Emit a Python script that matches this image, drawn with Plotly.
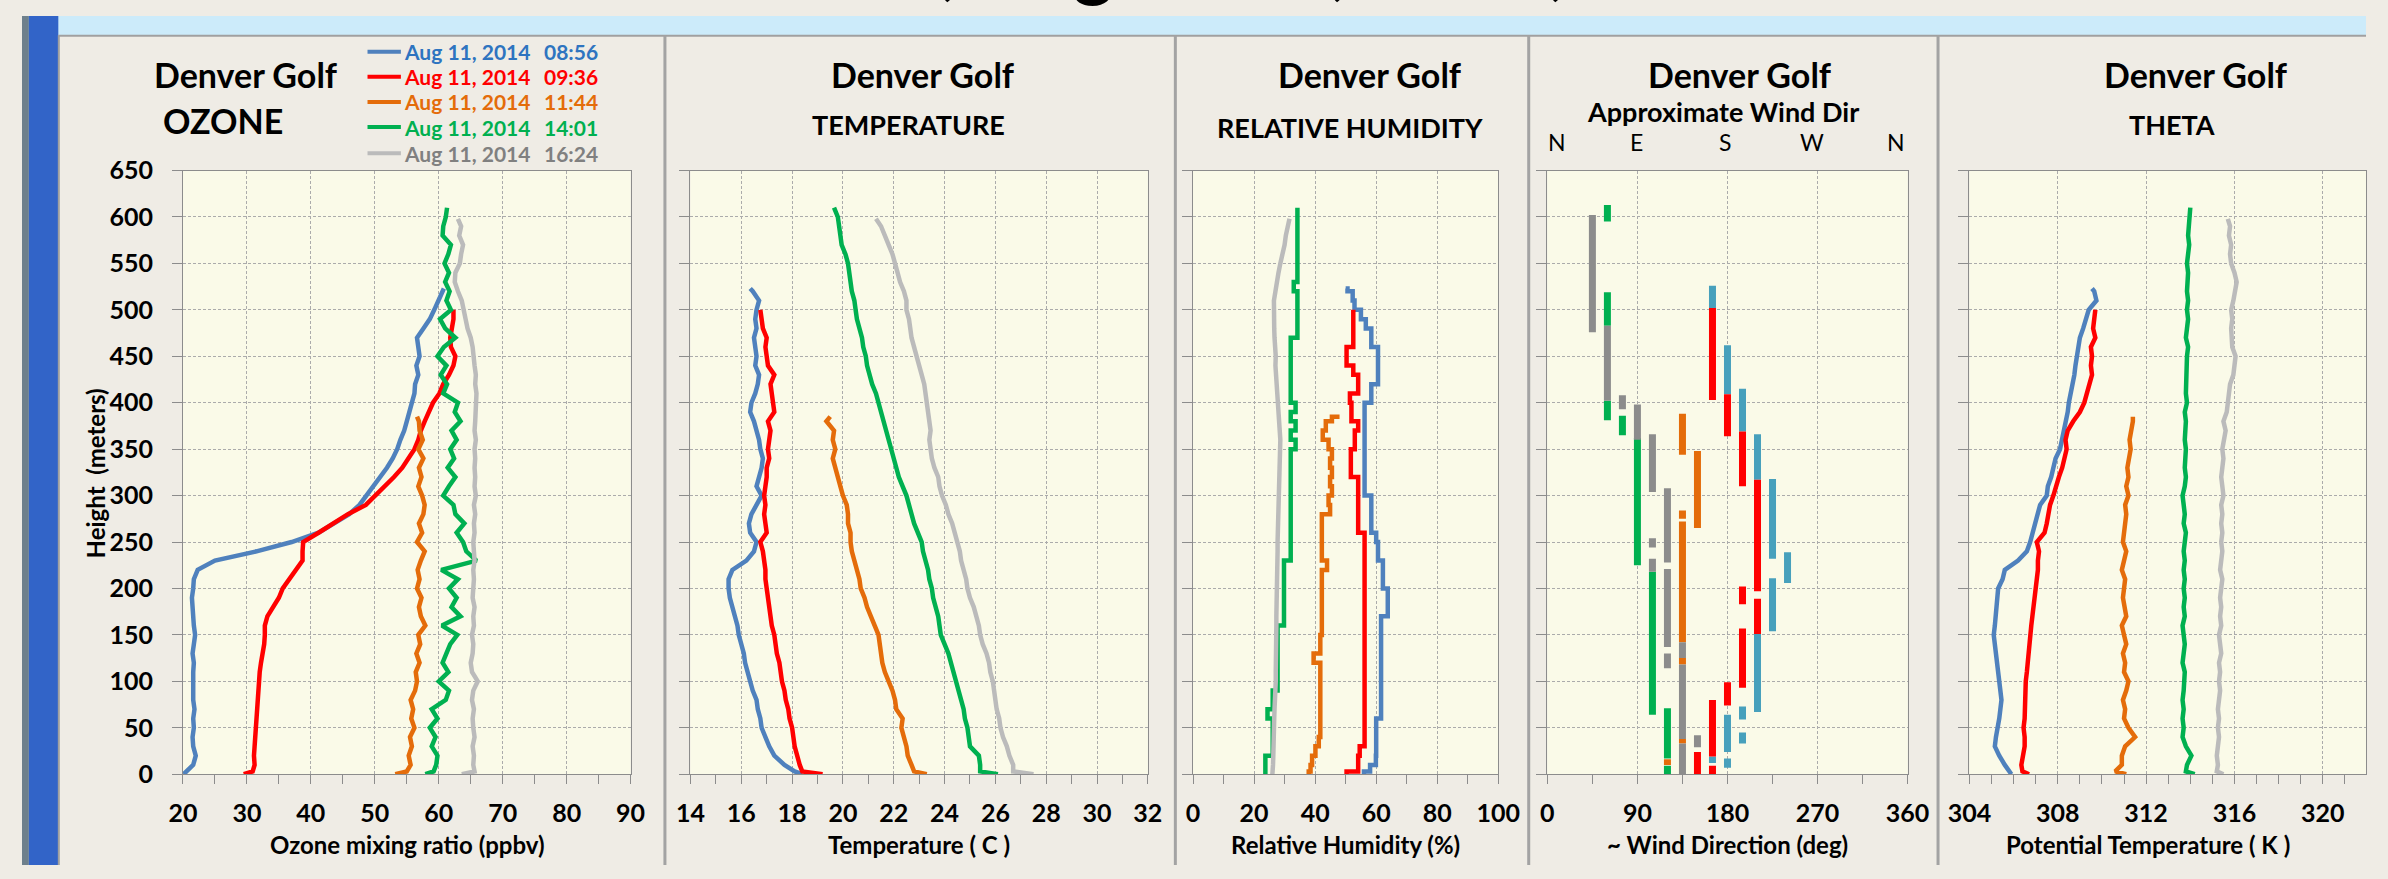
import plotly.graph_objects as go

W, H = 2388, 879

# ---------------- soundings ----------------
DATE = "Aug 11, 2014"
TIMES = ["08:56", "09:36", "11:44", "14:01", "16:24"]
LINE_COLORS = ["#4F81BD", "#FF0000", "#E46C0A", "#00B050", "#BBBBBB"]
TEXT_COLORS = ["#2E74C0", "#FF0000", "#E46C0A", "#00B050", "#808080"]
WIND_COLORS = ["#47A0BC", "#FF0000", "#E46C0A", "#00B050", "#8C8C8C"]
BANNER = ", August 11, 2014,"

# heights (m) of each profile
H_0856 = [0, 3, 10, 20, 30, 40, 50, 60, 70, 80, 90, 100, 110, 120, 130, 140, 150, 160, 170, 180,
          190, 200, 210, 220, 230, 240, 250, 260, 270, 280, 290, 300, 310, 320, 330, 340, 350, 360, 370, 380,
          390, 400, 410, 420, 430, 440, 450, 460, 470, 480, 490, 500, 510, 520, 523]
H_0936 = [0, 3, 10, 20, 30, 40, 50, 60, 70, 80, 90, 100, 110, 120, 130, 140, 150, 160, 170, 180,
          190, 200, 210, 220, 230, 240, 250, 260, 270, 280, 290, 300, 310, 320, 330, 340, 350, 360, 370, 380,
          390, 400, 410, 420, 430, 440, 450, 460, 470, 480, 490, 500]
H_1144 = [0, 3, 10, 20, 30, 40, 50, 60, 70, 80, 90, 100, 110, 120, 130, 140, 150, 160, 170, 180,
          190, 200, 210, 220, 230, 240, 250, 260, 270, 280, 290, 300, 310, 320, 330, 340, 350, 360, 370, 380,
          385]
H_1401 = [0, 3, 10, 20, 30, 40, 50, 60, 70, 80, 90, 100, 110, 120, 130, 140, 150, 160, 170, 180,
          190, 200, 210, 220, 230, 240, 250, 260, 270, 280, 290, 300, 310, 320, 330, 340, 350, 360, 370, 380,
          390, 400, 410, 420, 430, 440, 450, 460, 470, 480, 490, 500, 510, 520, 530, 540, 550, 560, 570, 580,
          590, 600, 610]
H_1624 = [0, 3, 10, 20, 30, 40, 50, 60, 70, 80, 90, 100, 110, 120, 130, 140, 150, 160, 170, 180,
          190, 200, 210, 220, 230, 240, 250, 260, 270, 280, 290, 300, 310, 320, 330, 340, 350, 360, 370, 380,
          390, 400, 410, 420, 430, 440, 450, 460, 470, 480, 490, 500, 510, 520, 530, 540, 550, 560, 570, 580,
          590, 598]

# ozone mixing ratio (ppbv)
O3_0856 = [20.1, 20.6, 21.6, 22.0, 21.6, 21.5, 21.7, 21.6, 21.8, 21.6,
           21.6, 21.5, 21.6, 21.7, 21.5, 21.7, 21.9, 21.7, 21.6, 21.5,
           21.4, 21.6, 21.7, 22.3, 25.0, 31.5, 37.0, 41.2, 43.5, 46.0,
           47.6, 48.7, 49.8, 51.0, 51.9, 52.8, 53.5, 54.0, 54.6, 55.0,
           55.4, 55.8, 56.2, 56.3, 56.8, 56.5, 57.0, 56.8, 56.6, 57.6,
           58.6, 59.3, 60.0, 60.6, 60.8]
O3_0936 = [29.5, 30.9, 31.2, 31.1, 31.2, 31.3, 31.3, 31.4, 31.5, 31.6,
           31.7, 31.8, 32.0, 32.2, 32.5, 32.7, 32.8, 32.8, 33.2, 34.2,
           35.0, 35.6, 36.6, 37.8, 38.7, 38.7, 38.8, 41.2, 43.6, 45.8,
           48.6, 50.1, 51.7, 53.0, 54.3, 55.3, 56.2, 56.8, 57.2, 57.8,
           58.5, 59.1, 60.1, 60.7, 61.6, 62.3, 62.6, 61.9, 61.8, 62.0,
           62.3, 62.3]
O3_1144 = [53.2, 55.0, 55.6, 55.3, 55.8, 55.5, 56.2, 55.7, 56.0, 55.6,
           56.3, 56.6, 56.4, 57.0, 56.5, 57.1, 56.8, 57.9, 57.2, 56.9,
           57.3, 56.6, 57.0, 56.7, 57.2, 57.8, 56.6, 57.4, 56.9, 57.6,
           57.8, 57.4, 56.8, 57.3, 56.9, 57.6, 56.8, 57.5, 57.0, 56.9,
           56.6]
O3_1401 = [57.9, 59.2, 59.6, 59.8, 58.9, 59.5, 58.6, 59.8, 58.9, 61.1,
           61.6, 60.0, 61.5, 60.6, 61.2, 61.8, 62.9, 60.5, 63.4, 62.0,
           62.8, 61.6, 63.0, 60.4, 65.9, 64.3, 63.8, 62.8, 64.0, 62.6,
           62.3, 60.7, 61.6, 62.6, 61.4, 62.4, 61.8, 62.8, 62.0, 63.4,
           62.5, 63.0, 60.7, 61.3, 60.3, 61.2, 59.8, 60.8, 62.6, 61.0,
           60.2, 61.9, 61.2, 61.7, 61.0, 61.6, 60.9, 61.5, 61.9, 60.6,
           60.7, 61.1, 61.3]
O3_1624 = [63.6, 65.6, 65.4, 65.5, 65.3, 65.6, 65.4, 65.3, 65.5, 65.2,
           65.4, 66.1, 65.2, 65.0, 65.3, 65.4, 65.2, 65.5, 65.4, 65.6,
           65.3, 65.4, 65.5, 65.4, 65.6, 65.5, 65.4, 65.6, 65.5, 65.7,
           65.5, 65.8, 65.6, 65.7, 65.6, 65.7, 65.6, 65.8, 65.6, 65.7,
           65.8, 65.8, 65.9, 65.7, 65.8, 65.6, 65.5, 65.3, 65.0, 64.5,
           64.2, 63.9, 63.6, 63.0, 62.5, 62.6, 63.3, 63.5, 63.8, 63.2,
           63.5, 63.0]

# temperature (C)
T_0856 = [18.4, 18.1, 17.7, 17.3, 17.1, 16.95, 16.8, 16.75, 16.65, 16.6,
          16.45, 16.35, 16.25, 16.15, 16.1, 16.0, 15.9, 15.85, 15.75, 15.65,
          15.55, 15.5, 15.5, 15.65, 16.2, 16.5, 16.6, 16.35, 16.3, 16.4,
          16.6, 16.8, 16.6, 16.7, 16.8, 16.85, 16.75, 16.7, 16.6, 16.5,
          16.35, 16.4, 16.55, 16.65, 16.7, 16.55, 16.6, 16.55, 16.5, 16.6,
          16.55, 16.6, 16.7, 16.45, 16.35]
T_0936 = [19.2, 18.4, 18.3, 18.2, 18.1, 18.05, 18.0, 17.9, 17.85, 17.75,
          17.7, 17.6, 17.55, 17.5, 17.4, 17.35, 17.3, 17.2, 17.15, 17.1,
          17.05, 17.0, 16.95, 16.95, 16.9, 16.85, 16.75, 17.0, 16.95, 16.9,
          16.95, 16.9, 16.95, 17.0, 17.0, 17.1, 17.05, 17.1, 17.15, 17.05,
          17.3, 17.25, 17.2, 17.15, 17.3, 17.05, 17.0, 16.95, 17.0, 16.85,
          16.8, 16.75]
T_1144 = [23.3, 22.8, 22.7, 22.55, 22.5, 22.4, 22.3, 22.35, 22.1, 22.05,
          21.95, 21.8, 21.65, 21.55, 21.5, 21.45, 21.4, 21.25, 21.1, 20.95,
          20.85, 20.7, 20.65, 20.55, 20.45, 20.35, 20.3, 20.3, 20.2, 20.2,
          20.15, 20.0, 19.9, 19.8, 19.7, 19.6, 19.7, 19.6, 19.65, 19.35,
          19.5]
T_1401 = [26.1, 25.4, 25.4, 25.35, 25.0, 24.95, 24.9, 24.8, 24.75, 24.65,
          24.55, 24.45, 24.35, 24.25, 24.15, 24.0, 23.85, 23.8, 23.75, 23.65,
          23.55, 23.5, 23.4, 23.35, 23.25, 23.15, 23.1, 22.95, 22.8, 22.7,
          22.6, 22.5, 22.35, 22.2, 22.1, 22.0, 21.9, 21.8, 21.7, 21.6,
          21.5, 21.4, 21.3, 21.15, 21.05, 20.95, 20.9, 20.8, 20.75, 20.65,
          20.55, 20.5, 20.45, 20.35, 20.3, 20.25, 20.2, 20.1, 19.95, 19.9,
          19.85, 19.8, 19.65]
T_1624 = [27.5, 26.7, 26.7, 26.55, 26.45, 26.3, 26.2, 26.15, 26.05, 26.0,
          25.95, 25.9, 25.8, 25.75, 25.65, 25.5, 25.4, 25.35, 25.25, 25.15,
          25.0, 24.9, 24.85, 24.75, 24.65, 24.6, 24.5, 24.4, 24.3, 24.15,
          24.05, 23.9, 23.8, 23.75, 23.6, 23.5, 23.45, 23.4, 23.45, 23.4,
          23.35, 23.3, 23.25, 23.2, 23.1, 23.0, 22.9, 22.8, 22.7, 22.65,
          22.6, 22.5, 22.5, 22.4, 22.25, 22.15, 22.05, 21.95, 21.8, 21.65,
          21.5, 21.3]

# relative humidity (%)
RH_0856 = [56.0, 58.0, 59.9, 60.0, 60.0, 60.0, 60.0, 61.6, 61.6, 61.6,
           61.6, 61.6, 61.6, 61.6, 61.6, 61.6, 61.6, 61.6, 63.8, 63.8,
           63.8, 62.2, 62.2, 62.2, 60.6, 60.6, 60.0, 58.4, 58.4, 58.4,
           58.4, 56.2, 56.2, 56.2, 56.2, 56.2, 56.2, 56.2, 56.2, 56.2,
           56.2, 58.4, 58.4, 60.6, 60.6, 60.6, 60.6, 58.4, 58.4, 56.6,
           55.0, 52.9, 52.3, 50.6, 50.0]
RH_0936 = [50.3, 54.1, 54.1, 54.6, 56.2, 56.2, 56.2, 56.2, 56.2, 56.2,
           56.2, 56.2, 56.2, 56.2, 56.2, 56.2, 56.2, 56.2, 56.2, 56.2,
           56.2, 56.2, 56.2, 56.2, 56.2, 56.2, 56.2, 54.1, 54.1, 54.1,
           54.1, 54.1, 54.1, 51.7, 51.7, 51.7, 53.0, 53.0, 54.1, 51.9,
           51.9, 51.4, 54.1, 54.1, 52.5, 50.3, 50.3, 52.5, 52.5, 52.5,
           52.5, 52.5]
RH_1144 = [37.9, 38.5, 39.0, 40.1, 41.2, 41.7, 41.7, 41.7, 41.7, 41.7,
           41.7, 41.7, 41.7, 39.5, 41.7, 41.7, 42.2, 42.2, 42.2, 42.2,
           42.2, 42.2, 42.2, 43.9, 42.2, 42.2, 42.2, 42.2, 42.2, 44.9,
           44.4, 45.5, 44.9, 45.5, 44.9, 45.5, 44.4, 42.5, 43.5, 45.5,
           48.0]
RH_1401 = [23.7, 23.7, 23.7, 26.1, 26.1, 26.1, 26.1, 24.4, 26.1, 26.1,
           27.7, 27.7, 27.7, 27.7, 27.7, 27.7, 27.7, 29.8, 29.8, 29.8,
           29.8, 29.8, 29.8, 29.8, 32.0, 32.0, 32.0, 32.0, 32.0, 32.0,
           32.0, 32.0, 32.0, 32.0, 32.0, 32.0, 33.6, 32.0, 33.6, 32.0,
           33.6, 32.0, 32.0, 32.0, 32.0, 32.0, 32.0, 32.0, 34.2, 34.2,
           34.2, 34.2, 34.2, 33.0, 34.2, 34.2, 34.2, 34.2, 34.2, 34.2,
           34.2, 34.2, 34.2]
RH_1624 = [26.0, 26.1, 26.2, 26.3, 26.3, 26.5, 26.6, 26.6, 26.7, 26.9,
           27.0, 27.1, 27.1, 27.2, 27.2, 27.1, 27.2, 27.3, 27.3, 27.4,
           27.3, 27.4, 27.5, 27.6, 27.6, 27.7, 27.7, 27.8, 27.8, 27.8,
           27.9, 27.9, 28.0, 28.1, 28.3, 28.5, 28.7, 28.6, 28.4, 28.2,
           28.0, 27.8, 27.6, 27.3, 27.2, 27.0, 27.1, 26.8, 26.7, 26.6,
           26.6, 26.7, 26.5, 27.0, 27.4, 28.0, 28.6, 29.4, 30.0, 30.4,
           31.2, 31.6]

# potential temperature (K)
TH_0856 = [305.9, 305.8, 305.6, 305.35, 305.15, 305.2, 305.3, 305.35, 305.4, 305.45,
           305.4, 305.35, 305.3, 305.2, 305.15, 305.1, 305.1, 305.15, 305.2, 305.2,
           305.25, 305.3, 305.5, 305.6, 306.2, 306.6, 306.75, 306.85, 306.95, 307.05,
           307.2, 307.5, 307.55, 307.7, 307.8, 307.9, 308.1, 308.2, 308.3, 308.35,
           308.45, 308.5, 308.6, 308.7, 308.75, 308.8, 308.85, 308.95, 309.0, 309.15,
           309.3, 309.4, 309.75, 309.65, 309.55]
TH_0936 = [306.7, 306.4, 306.35, 306.45, 306.5, 306.5, 306.45, 306.5, 306.5, 306.55,
           306.5, 306.55, 306.6, 306.65, 306.7, 306.7, 306.75, 306.8, 306.85, 306.9,
           306.95, 307.0, 307.05, 307.1, 307.1, 307.15, 307.05, 307.4, 307.5, 307.55,
           307.65, 307.8, 307.9, 308.05, 308.2, 308.3, 308.4, 308.35, 308.45, 308.7,
           309.0, 309.2, 309.3, 309.45, 309.55, 309.5, 309.55, 309.5, 309.7, 309.6,
           309.65, 309.7]
TH_1144 = [311.1, 310.6, 310.9, 310.9, 311.05, 311.5, 311.2, 311.0, 311.05, 310.95,
           311.1, 311.2, 311.0, 311.05, 310.95, 311.1, 311.0, 310.9, 311.1, 311.0,
           310.95, 311.0, 311.05, 310.9, 311.0, 311.1, 310.95, 311.0, 311.05, 311.1,
           311.05, 311.2, 311.1, 311.2, 311.15, 311.25, 311.3, 311.25, 311.35, 311.4,
           311.4]
TH_1401 = [314.2, 313.8, 313.85, 314.05, 313.8, 313.65, 313.7, 313.65, 313.7, 313.65,
           313.7, 313.7, 313.75, 313.65, 313.7, 313.75, 313.7, 313.65, 313.75, 313.7,
           313.75, 313.7, 313.75, 313.7, 313.75, 313.7, 313.75, 313.8, 313.7, 313.75,
           313.7, 313.65, 313.75, 313.8, 313.75, 313.8, 313.8, 313.75, 313.8, 313.8,
           313.75, 313.85, 313.8, 313.8, 313.85, 313.8, 313.85, 313.9, 313.8, 313.85,
           313.9, 313.85, 313.9, 313.85, 313.9, 313.9, 313.85, 313.9, 313.95, 313.9,
           313.95, 314.0, 314.0]
TH_1624 = [315.5, 315.2, 315.25, 315.2, 315.25, 315.3, 315.25, 315.3, 315.25, 315.3,
           315.35, 315.3, 315.35, 315.3, 315.4, 315.35, 315.3, 315.4, 315.35, 315.4,
           315.35, 315.4, 315.45, 315.35, 315.4, 315.45, 315.4, 315.45, 315.4, 315.45,
           315.4, 315.5, 315.45, 315.4, 315.45, 315.5, 315.45, 315.55, 315.6, 315.5,
           315.65, 315.7, 315.75, 315.8, 315.95, 316.0, 316.05, 315.9, 315.85, 315.85,
           315.9, 315.85, 315.95, 316.05, 316.1, 316.0, 315.85, 315.8, 315.85, 315.75,
           315.8, 315.7]

# approximate wind direction: layers (direction deg, bottom m, top m)
WD_0856_DIR = [165, 180, 195, 210, 225, 240, 225, 210, 195, 195, 180, 180, 165]
WD_0856_BOT = [502, 409, 369, 317, 232, 206, 154, 67, 59, 33, 24, 7, 12]
WD_0856_TOP = [526, 462, 415, 366, 318, 239, 211, 151, 73, 45, 64, 17, 19]
WD_0936_DIR = [165, 180, 195, 210, 195, 210, 195, 180, 165, 165, 150]
WD_0936_BOT = [403, 364, 310, 197, 183, 151, 93, 74, 19, 0, 0]
WD_0936_TOP = [502, 409, 369, 317, 202, 189, 157, 99, 80, 9, 24]
WD_1144_DIR = [135, 150, 135, 135, 135, 135, 120]
WD_1144_BOT = [344, 265, 275, 142, 118, 33, 10]
WD_1144_TOP = [388, 348, 284, 272, 125, 38, 16]
WD_1401_DIR = [60, 60, 60, 75, 90, 105, 120, 120]
WD_1401_BOT = [595, 483, 381, 365, 225, 64, 17, 0]
WD_1401_TOP = [613, 519, 402, 386, 362, 218, 71, 9]
WD_1624_DIR = [45, 60, 75, 90, 105, 105, 105, 120, 120, 120, 135, 135, 135, 150]
WD_1624_BOT = [476, 402, 393, 360, 304, 244, 218, 228, 137, 114, 125, 38, 0, 29]
WD_1624_TOP = [602, 483, 408, 398, 366, 254, 232, 308, 221, 130, 142, 118, 33, 42]

HEIGHTS = [H_0856, H_0936, H_1144, H_1401, H_1624]
OZONE = [O3_0856, O3_0936, O3_1144, O3_1401, O3_1624]
TEMP = [T_0856, T_0936, T_1144, T_1401, T_1624]
RHUM = [RH_0856, RH_0936, RH_1144, RH_1401, RH_1624]
THETA = [TH_0856, TH_0936, TH_1144, TH_1401, TH_1624]
WIND = [(WD_0856_DIR, WD_0856_BOT, WD_0856_TOP), (WD_0936_DIR, WD_0936_BOT, WD_0936_TOP),
        (WD_1144_DIR, WD_1144_BOT, WD_1144_TOP), (WD_1401_DIR, WD_1401_BOT, WD_1401_TOP),
        (WD_1624_DIR, WD_1624_BOT, WD_1624_TOP)]

# ---------------- layout geometry (pixels) ----------------
PLOT_TOP, PLOT_BOT = 160, 785
TH_L, TH_320 = 1984, 2344
PANELS = [
    dict(l=164, r=620, rng=[20, 90], dt=10, mdt=5, title="Ozone mixing ratio (ppbv)", sub="OZONE"),
    dict(l=681, r=1147, rng=[14, 32], dt=2, mdt=1, title="Temperature ( C )", sub="TEMPERATURE"),
    dict(l=1193, r=1504, rng=[0, 100], dt=20, mdt=10, title="Relative Humidity (%)", sub="RELATIVE HUMIDITY"),
    dict(l=1554, r=1921, rng=[0, 360], dt=90, mdt=45, title="~ Wind Direction (deg)", sub="Approximate Wind Dir"),
    dict(l=TH_L, r=2388, rng=[304, 304 + (2388 - TH_L) / ((TH_320 - TH_L) / 16)], dt=4, mdt=1,
         title="Potential Temperature ( K )", sub="THETA"),
]

FONT = "Lato, 'Open Sans', sans-serif"
BG = "#EFECE5"
PLOT_BG = "#FAFAE8"
AXIS_C = "#8C8C8C"
GRID_C = "#ABABAB"


def px(x):
    return x / W


def py(y):
    return 1 - y / H


fig = go.Figure()

# profile lines
for p, data in zip([1, 2, 3, 5], [OZONE, TEMP, RHUM, THETA]):
    for k in range(5):
        shape = "vh" if (p == 3 and k < 4) else "linear"
        fig.add_trace(go.Scatter(
            x=data[k], y=HEIGHTS[k], mode="lines",
            line=dict(color=LINE_COLORS[k], width=4.5, shape=shape),
            xaxis=f"x{p}", yaxis=f"y{p}", showlegend=False, hoverinfo="skip"))

# wind direction layers as thick vertical bars
for k, (dirs, bots, tops) in enumerate(WIND):
    xs, ys = [], []
    for d, b, t in zip(dirs, bots, tops):
        xs += [d, d, None]
        ys += [b, t, None]
    fig.add_trace(go.Scatter(
        x=xs, y=ys, mode="lines", line=dict(color=WIND_COLORS[k], width=7),
        xaxis="x4", yaxis="y4", showlegend=False, hoverinfo="skip"))

tickfont = dict(family=FONT, size=25, color="black", weight="bold")
for i, P in enumerate(PANELS, start=1):
    sfx = "" if i == 1 else str(i)
    fig.layout[f"xaxis{sfx}"] = dict(
        domain=[px(P["l"]), px(P["r"])], anchor=f"y{i}", range=P["rng"],
        tick0=P["rng"][0], dtick=P["dt"], ticks="outside", ticklen=9, tickcolor=AXIS_C,
        minor=dict(dtick=P["mdt"], ticks="outside", ticklen=9, tickcolor=AXIS_C, showgrid=False),
        showgrid=True, gridcolor=GRID_C, griddash="3px,2px", gridwidth=1,
        showline=True, linecolor=AXIS_C, linewidth=1, mirror=True, zeroline=False,
        tickfont=tickfont, ticklabelstandoff=8, fixedrange=True)
    fig.layout[f"yaxis{sfx}"] = dict(
        domain=[py(PLOT_BOT), py(PLOT_TOP)], anchor=f"x{i}", range=[0, 650],
        dtick=50, ticks="outside", ticklen=10, tickcolor=AXIS_C,
        showticklabels=(i == 1), showgrid=True, gridcolor=GRID_C, griddash="3px,2px", gridwidth=1,
        showline=True, linecolor=AXIS_C, linewidth=1, mirror=True, zeroline=False,
        tickfont=tickfont, ticklabelstandoff=14, fixedrange=True)

annotations = []


def ann(text, x, y, size, color="black", bold=True, xanchor="center", angle=0, yanchor="middle"):
    annotations.append(dict(
        text=f"<b>{text}</b>" if bold else text, x=px(x), y=py(y), xref="paper", yref="paper",
        xanchor=xanchor, yanchor=yanchor, showarrow=False, textangle=angle,
        font=dict(family=FONT, size=size, color=color)))


# banner text running off the top edge (only its lowest strokes fall inside the page)
ann(BANNER, 934, -6, 78, xanchor="left", yanchor="bottom")

# panel headings
for cx in [228, 918, 1373, 1750, 2215]:
    ann("Denver Golf", cx, 61, 34)
ann(PANELS[0]["sub"], 205, 108, 34)
ann(PANELS[1]["sub"], 903, 112, 27)
ann(PANELS[2]["sub"], 1353, 115, 27)
ann(PANELS[3]["sub"], 1733, 99, 27)
ann(PANELS[4]["sub"], 2190, 112, 27)
for lbl, cx in zip(["N", "E", "S", "W", "N"], [1564, 1645, 1735, 1824, 1909]):
    ann(lbl, cx, 130, 23, bold=False)

# axis titles
for P in PANELS[:4]:
    ann(P["title"], (P["l"] + P["r"]) / 2, 858, 24)
ann(PANELS[4]["title"], 2166, 858, 24)
ann("Height \u00a0(meters)", 75, 474, 24, angle=-90)

# series key
shapes = []
ROWS = [37, 63, 89, 115, 142]
for k in range(5):
    ann(DATE, 387, ROWS[k], 21, TEXT_COLORS[k], xanchor="left")
    ann(TIMES[k], 530, ROWS[k], 21, TEXT_COLORS[k], xanchor="left")
    shapes.append(dict(type="line", xref="paper", yref="paper", x0=px(352), x1=px(386),
                       y0=py(ROWS[k]), y1=py(ROWS[k]), line=dict(color=LINE_COLORS[k], width=4)))

# frame: title band, left strip, panel borders
shapes += [
    dict(type="rect", xref="paper", yref="paper", x0=0, x1=1, y0=py(20), y1=1,
         fillcolor="#CCEBFA", line=dict(width=0), layer="below"),
    dict(type="rect", xref="paper", yref="paper", x0=0, x1=px(7), y0=0, y1=1,
         fillcolor="#6E808C", line=dict(width=0), layer="below"),
    dict(type="rect", xref="paper", yref="paper", x0=px(7), x1=px(37), y0=0, y1=1,
         fillcolor="#3264C8", line=dict(width=0), layer="below"),
    dict(type="line", xref="paper", yref="paper", x0=px(37), x1=1, y0=py(20.5), y1=py(20.5),
         line=dict(color="#A0A0A0", width=2)),
    dict(type="line", xref="paper", yref="paper", x0=px(37.5), x1=px(37.5), y0=0, y1=py(20),
         line=dict(color="#A0A0A0", width=2)),
]
for sx in [655, 1175, 1535, 1952]:
    shapes.append(dict(type="line", xref="paper", yref="paper", x0=px(sx), x1=px(sx), y0=0, y1=py(20),
                       line=dict(color="#A3A3A3", width=3)))

fig.update_layout(
    width=W, height=H, margin=dict(l=0, r=0, t=0, b=0),
    paper_bgcolor=BG, plot_bgcolor=PLOT_BG, showlegend=False,
    annotations=annotations, shapes=shapes, hovermode=False,
    font=dict(family=FONT, color="black"),
)

fig.write_html("out.html", config={"displayModeBar": False},
               post_script="document.body.style.margin='0';document.body.style.overflow='hidden';")
